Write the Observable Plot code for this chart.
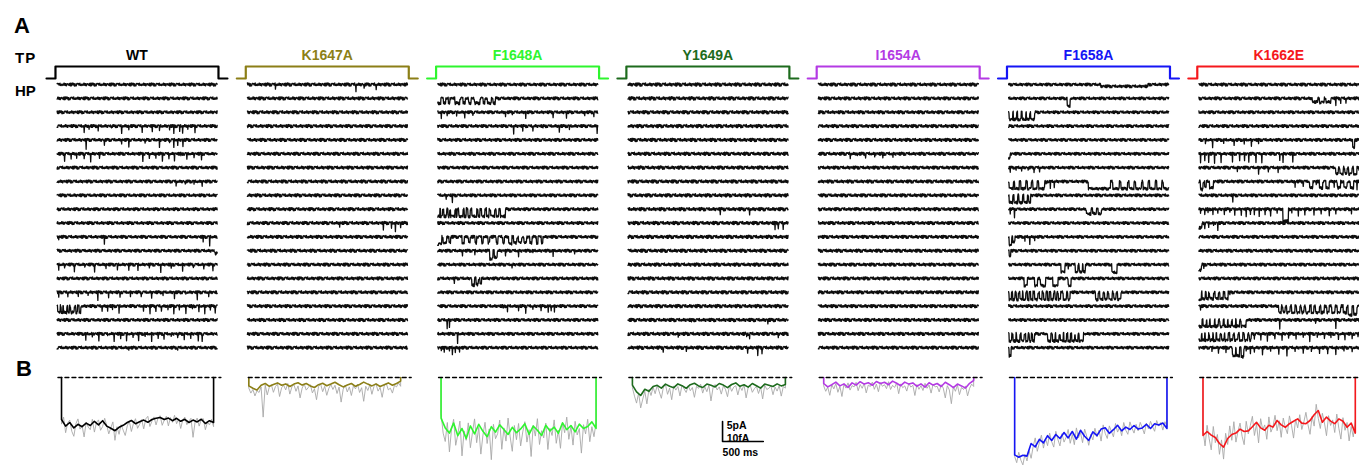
<!DOCTYPE html>
<html><head><meta charset="utf-8">
<script src="https://cdn.jsdelivr.net/npm/d3@7"></script>
<script src="https://cdn.jsdelivr.net/npm/@observablehq/plot@0.6"></script>
<style>
html,body{margin:0;padding:0;background:#fff;overflow:hidden}
#wrap{position:relative;width:1359px;height:467px;font-family:"Liberation Sans",Arial,sans-serif}
#wrap svg{position:absolute;left:0;top:0;display:block}
.lab{position:absolute;font-weight:bold;line-height:1;color:#000;white-space:nowrap}
</style></head><body>
<div id="wrap">
<div class="lab" style="left:14px;top:15px;font-size:22px">A</div>
<div class="lab" style="left:15px;top:50px;font-size:15px;letter-spacing:1px">TP</div>
<div class="lab" style="left:15px;top:83px;font-size:15px">HP</div>
<div class="lab" style="left:16px;top:358px;font-size:22px">B</div>
</div>
<script>
// ---------------- data ----------------
const panels = ["WT","K1647A","F1648A","Y1649A","I1654A","F1658A","K1662E"];
const panelColors = ["#000000","#8c7f17","#2ef52e","#1d6b1d","#b43ae4","#1515f5","#f5181c"];
const unitaryPA = [-1.6,-1.6,-1.5,-1.6,-1.0,-1.8,-1.6];   // default opening amplitude (pA)
const noiseGain = [1.9,2.0,1.9,2.1,2.0,1.8,1.9];

// test pulse protocol (ms) and level (0 = holding, 1 = test)
const tpTimes = [-110,0,0,2000,2000,2110];
const tpLevels = [0,0,1,1,0,0];

// baseline noise texture (pA) and relative depth of brief (filtered) openings
const noise = [0.12,-0.08,0.18,-0.15,0.03,-0.2,0.09,0.15,-0.05,-0.13,0.16,-0.09,0.06,-0.18,0.13,0.01,-0.12,0.19,-0.06,0.1,-0.16,0.04,0.14,-0.1,-0.03,0.17,-0.19,0.07,0.11,-0.14,0.0,0.16,-0.07,-0.15,0.08,0.13,-0.17,0.05,-0.04,0.15,-0.11,0.1,-0.08,0.18,-0.14,0.04,0.07,-0.16,0.12,-0.06,0.03,-0.1,0.16,-0.12,0.09,-0.02,0.14,-0.18,0.06,-0.09,0.11];
const spikeDepth = [1.0,0.7,0.85,0.55,1.1,0.75,0.95,0.6,0.8,1.05,0.65,0.9,0.5,1.0,0.72];

// single-channel openings per sweep: t (brief opening) or [start, end] or [start, end, pA]
const eventsWT = [
 [],[],[],
 [350,412,525,687,812,900,1062,1187,1275,1400,1450,1525,1560,1625,1712],
 [[375,383,-2.0],600,812,900,1100,[1275,1283,-2.0],1400,1450,1500,1562],
 [110,190,260,350,430,540,1070,1150,1230,1310,1390,1460,1540,1610,1700,1790],
 [],
 [[1480,1488,-0.9],[1590,1598,-0.9],[1700,1708,-0.9],[1800,1808,-0.9]],
 [],[],[],
 [40,600,1810,[1890,1898,-2.1]],
 [[1955,1985,-0.7]],
 [40,110,230,360,480,620,760,900,1010,1150,1290,1420,1560,1690,1820,1930],
 [],
 [40,150,280,400,520,650,790,920,1050,1180,1320,1460,1600,1740,1880],
 [[25,60],[70,90],[100,140],[150,170],[185,230],[250,270],[290,310],570,640,700,780,1080,1160,1230,1300,1380,1450,1520,1600,1680,1760,1830,1900,1960],
 [],
 [370,450,530,640,720,800,870,950,1020,1100,1180,1260,1330,1420,1500,1580,1660,1750,[1800,1808,-2.1]],
 [[900,908,-0.8],[1500,1508,-0.8]]
];
const eventsK1647A = [
 [[362,370,-0.9],[1350,1358,-1.8],[1450,1458,-1.2],[1600,1608,-1.4]],
 [],[],[],[],[],[],[],[],[],
 [[1150,1158,-1.2],[1687,1695,-1.4],[1787,1795,-1.2],[1837,1845,-2.0],[1900,1908,-1.0]],
 [],[],[],[],[],[],[],[],[]
];
const eventsF1648A = [
 [],
 [[20,60,-1.2],[90,120,-1.2],[150,170,-1.2],[230,290,-1.2],[330,360,-1.2],[400,430,-1.2],[470,540,-1.2],[580,600,-1.2],[630,680,-1.2],[700,725,-1.2]],
 [62,137,250,350,450,850,937,1100,1437,1600,1825,1937],
 [[950,958,-1.8],1062,1187,1312,1512,1637,1975],
 [],[],[],[],
 [[125,133,-1.2],[200,208,-2.1]],
 [[15,45,-1.8],[55,80,-1.8],[95,130,-1.8],[145,165,-1.8],[180,230,-1.8],[245,260,-1.8],[280,330,-1.8],[345,370,-1.8],[390,420,-1.8],[440,500,-1.8],[515,540,-1.8],[560,600,-1.8],[620,650,-1.8],[670,720,-1.8],[740,770,-1.8],[790,850,-1.8]],
 [],
 [[15,70,-1.8],[85,130],[160,180],[320,345],[400,420],[480,500],[560,580],[640,660],[740,760],[820,840],[890,930,-1.7],[950,990],[1010,1050],[1080,1110],[1150,1180],[1230,1250],[1290,1310]],
 [325,475,[660,700,-2.0],[715,750,-1.7],850,1012,1187,1437,1700],
 [[933,941,-0.9]],
 [[225,233,-0.9],[437,470,-1.7],[490,520],[540,560]],
 [],
 [825,875,1012,1100,1187,1287,1375,1412,1450],
 [[137,145,-2.3],[162,170,-2.0]],
 [[262,270,-2.3]],
 [62,100,162,200,237,287]
];
const eventsY1649A = [
 [],[],[],[],[],[],[],[],[],
 [[1150,1158,-1.0],[1512,1520,-1.2]],
 [1825,1862,1925],
 [],[],[],[],[],[],
 [[800,808,-0.9],[1737,1745,-0.9]],
 [[637,645,-1.0],1475,1512,[1862,1870,-1.2]],
 [[450,458,-0.9],[737,745,-0.8],1487,1612,1662]
];
const eventsI1654A = [
 [],[],[],[],[],
 [412,500,600,712,812,937],
 [],[],[],[],[],[],[],[],[],[],[],[],[],[]
];
const eventsF1658A = [
 [[1150,1730,-0.45]],
 [[737,775,-2.0]],
 [[25,70],[80,120],[130,175],[185,230],[240,280],[290,337]],
 [],[],
 [[20,40,-1.2]],
 [[40,48,-0.9],[110,118,-0.9],[180,188,-0.9],[260,268,-0.9],[330,338,-0.9],[400,408,-0.9]],
 [[25,80],[95,150],[170,230],[250,300],[320,370],[390,462],480,530,580,[1000,1270],[1300,1380],[1400,1480],[1500,1560],[1580,1650],[1670,1730],[1750,1820],[1840,1900],[1920,1990]],
 [[25,70],[85,130],[145,190],[205,250],[265,290]],
 [40,90,[975,1030,-1.2],[1050,1100,-1.0],[1120,1160,-1.2]],
 [],
 [[25,60,-2.0],[70,100,-1.2],220,280,340],
 [[25,45,-1.4]],
 [[662,712],750,[837,870],[885,925],[935,962],[1287,1350,-2.0]],
 [[212,250],[337,375],[412,475],[562,625],[750,787]],
 [[25,55],[70,100],[115,140],[160,190],[200,230],[250,270],[290,320],[340,380],[400,430],[450,480],[500,520],[540,570],[590,610],[630,660],[690,730],[745,775],[1087,1120],[1140,1180],[1200,1230],[1250,1290],[1310,1340],[1360,1400]],
 [],[],
 [[25,60],[75,110],[120,160],[175,210],[230,260],[275,300],[315,337],[500,540],[560,590],[600,640],[655,690],[700,730],[745,780],[795,830],[840,870],[885,937]],
 [[25,50,-2.1]]
];
const eventsK1662E = [
 [],
 [[1412,1480,-0.9],[1500,1560,-1.0],[1580,1640,-0.9],1700,1760,1825],
 [],[],
 [100,187,325,450,575,662,750,[1905,1930,-2.0]],
 [[40,48,-2.0],[90,98,-2.0],[140,148,-2.0],[210,218,-2.0],[290,298,-2.0],[430,438,-2.0],[520,528,-2.0],[580,588,-2.0],[630,638,-2.0],[720,728,-2.0],[790,798,-2.0],[1010,1018,-2.0],[1050,1058,-2.0],[1170,1178,-2.0]],
 [490,750,870,990,[1700,1730],[1750,1790],[1810,1840],[1860,1900],[1920,1960],1985],
 [[40,70,-2.0],[90,110],[150,200],1200,1300,[1380,1420],1460,[1500,1540],[1580,1620],1680,[1720,1760],[1800,1840],[1880,1920],1960],
 [[437,445,-1.4]],
 [40,90,130,190,250,330,400,460,540,600,650,700,760,830,900,980,[1050,1120,-3.0],1160,1240,1320,1430,1520,1620,1700,[1890,1898,-1.4]],
 [[20,60,-1.2],90,140,200,250],
 [],[],
 [[20,50,-1.4],80],
 [],
 [[20,50,-1.8],[60,100],[110,140],[150,200],[220,260],[280,320],[340,380],400],
 [40,[1000,1030],[1050,1080],[1100,1140],[1160,1200],[1220,1260],[1280,1310],[1330,1380],[1400,1430],[1450,1500],[1520,1560],[1590,1620],[1650,1690],[1720,1760],[1790,1830],[1850,1900,-2.3],[1920,1960,-2.1]],
 [[20,60],[70,110],[120,150],[160,210],[220,260],[280,320],[330,370],[380,420],[430,470],[480,520],[540,600],[1012,1020,-2.4],1450,1700],
 [[20,50],[60,90],[100,140],[150,190],[200,230],[240,280],[300,330],[340,380],[400,440],[460,500],[520,560],[580,620],[640,662],700,780,860,950,1040,1120,1210,1300,1380,1470,1560,1640,1730,1810,1900,1970],
 [180,260,350,[430,470,-2.0],[480,520,-2.0],[540,570,-2.3],600,650,700,800,900,1000,1100,1200,1300,1400,1500,1600,1700,1800,1900]
];
const sweepEvents = [eventsWT,eventsK1647A,eventsF1648A,eventsY1649A,eventsI1654A,eventsF1658A,eventsK1662E];

// ensemble averages (fA): smoothed (coloured) and raw (grey), evenly spread over the span
const meanSpanMs = [[74,1940],[37,1900],[61,1963],[74,1951],[86,1926],[94,1963],[70,1939]];
const meanWT = [-21.0,-24.3,-22.5,-25.2,-23.4,-24.6,-22.8,-24.0,-21.9,-23.7,-21.6,-24.3,-25.4,-26.6,-24.9,-23.9,-22.5,-21.5,-23.1,-22.1,-21.3,-22.4,-21.0,-20.4,-20.0,-21.0,-20.3,-21.6,-20.4,-21.9,-20.9,-22.5,-21.3,-22.2,-20.9,-23.0,-21.6,-22.5];
const rawWT = [-23.3,-19.8,-27.6,-22.7,-21.3,-26.9,-29.4,-23.1,-20.7,-25.8,-24.0,-29.7,-22.4,-24.8,-26.1,-20.9,-27.3,-22.5,-21.2,-26.4,-24.5,-20.4,-23.9,-28.2,-25.1,-22.2,-31.4,-24.6,-28.4,-23.6,-26.3,-29.0,-24.2,-21.9,-27.0,-23.0,-20.6,-25.4,-23.4,-21.0,-25.7,-20.7,-19.4,-24.5,-21.8,-19.7,-23.7,-20.1,-19.1,-23.9,-21.3,-19.4,-24.2,-20.0,-22.4,-18.9,-23.1,-20.7,-25.5,-21.2,-19.8,-23.6,-21.8,-20.4,-29.9,-22.2,-20.3,-24.3,-21.0,-20.6,-26.1,-22.4,-23.7,-20.9,-24.6];
const meanK1647A = [-4.2,-5.4,-6.3,-3.9,-3.0,-4.4,-3.5,-2.7,-3.9,-3.2,-4.5,-3.3,-2.6,-3.8,-3.0,-4.2,-5.0,-3.6,-2.9,-4.1,-3.3,-2.4,-3.6,-4.7,-3.8,-3.0,-4.4,-3.5,-2.3,-3.3,-4.2,-3.2,-4.5,-3.6,-2.7,-3.9,-3.0,-1.8];
const rawK1647A = [-5.3,-7.8,-6.0,-9.2,-6.6,-7.5,-4.7,-19.8,-3.8,-8.7,-4.8,-3.6,-7.4,-4.5,-3.3,-9.5,-5.1,-3.9,-6.2,-3.0,-8.3,-4.7,-3.5,-6.9,-4.2,-10.2,-5.3,-3.2,-6.3,-5.0,-3.6,-7.7,-5.7,-11.1,-4.5,-3.3,-7.1,-4.4,-8.9,-5.4,-3.5,-6.0,-3.9,-8.0,-4.8,-12.3,-5.9,-3.8,-7.2,-4.7,-9.0,-4.1,-5.7,-3.3,-7.5,-5.1,-11.9,-4.4,-6.5,-3.6,-8.4,-4.5,-3.2,-6.8,-5.0,-9.9,-4.2,-3.0,-6.2,-5.3,-7.8,-3.9,-4.7,-2.7,-4.4];
const meanF1648A = [-20.3,-25.2,-27.8,-22.8,-29.1,-25.5,-30.5,-24.2,-28.2,-23.4,-26.9,-29.6,-24.6,-27.3,-23.7,-26.0,-28.5,-24.9,-27.6,-25.7,-23.1,-28.4,-24.3,-26.4,-29.0,-23.9,-26.7,-24.8,-27.9,-22.7,-26.1,-24.0,-27.2,-23.3,-25.5,-24.5,-22.2,-25.4];
const rawF1648A = [-18.0,-27.8,-32.0,-22.5,-37.2,-25.8,-20.9,-33.9,-28.5,-21.8,-39.2,-26.7,-31.4,-22.7,-35.1,-27.5,-20.7,-32.6,-24.9,-38.3,-28.8,-22.4,-33.0,-25.7,-41.1,-23.4,-30.6,-28.1,-21.3,-35.9,-25.2,-31.8,-20.3,-29.7,-36.9,-24.0,-31.1,-23.0,-34.2,-27.2,-22.1,-32.3,-26.1,-39.5,-23.9,-29.3,-20.6,-33.5,-26.6,-30.2,-22.8,-36.0,-25.4,-29.0,-21.2,-32.9,-26.3,-35.4,-22.5,-27.6,-19.8,-30.9,-24.3,-33.8,-21.9,-28.7,-25.5,-37.8,-23.6,-28.2,-20.9,-32.1,-24.6,-29.6,-22.5];
const meanY1649A = [-3.8,-7.2,-9.0,-5.9,-6.9,-4.5,-3.9,-5.3,-3.3,-4.4,-5.1,-3.2,-4.1,-5.4,-3.6,-2.9,-4.2,-5.0,-3.3,-3.9,-4.7,-3.0,-3.8,-5.1,-3.5,-2.7,-4.4,-3.6,-4.8,-3.0,-4.1,-5.3,-3.3,-3.9,-4.5,-3.2,-4.2,-3.5];
const rawY1649A = [-5.1,-9.3,-12.8,-7.7,-15.2,-10.8,-6.9,-13.2,-5.9,-9.0,-4.8,-8.1,-3.9,-7.2,-10.4,-4.7,-3.6,-8.4,-5.3,-11.1,-4.2,-6.3,-4.5,-9.2,-3.8,-5.7,-7.5,-4.1,-6.6,-5.0,-9.9,-4.4,-5.4,-3.3,-7.8,-4.5,-7.1,-3.9,-11.7,-5.1,-3.5,-6.2,-4.7,-8.3,-4.2,-5.9,-9.6,-3.8,-6.9,-4.8,-4.1,-8.7,-4.5,-6.5,-3.6,-10.2,-5.0,-3.9,-7.4,-5.6,-4.4,-8.0,-4.7,-10.7,-3.8,-6.0,-5.4,-4.2,-8.6,-4.8,-6.8,-4.1,-9.3,-4.5,-5.3];
const meanI1654A = [-3.0,-4.7,-3.6,-2.3,-4.2,-3.2,-5.0,-2.7,-3.8,-2.1,-3.3,-2.6,-3.9,-2.0,-3.0,-2.4,-3.6,-1.8,-2.9,-4.1,-2.3,-3.3,-2.7,-4.4,-3.2,-4.8,-2.6,-3.8,-3.0,-4.5,-2.4,-3.6,-5.1,-3.3,-4.2,-5.3,-2.9,-1.5];
const rawI1654A = [-4.2,-6.9,-4.8,-8.9,-3.6,-5.7,-3.0,-7.4,-4.5,-9.5,-3.3,-5.3,-2.7,-6.3,-4.1,-4.7,-2.4,-6.6,-3.5,-5.4,-2.9,-7.7,-3.8,-4.5,-2.3,-5.9,-3.3,-7.1,-2.6,-4.4,-3.6,-5.6,-2.1,-6.0,-3.9,-5.0,-2.7,-8.1,-3.2,-5.1,-4.2,-6.8,-3.0,-4.8,-3.9,-9.0,-3.5,-5.9,-4.1,-6.5,-2.9,-5.4,-3.8,-7.8,-3.3,-4.7,-4.4,-7.2,-3.6,-5.3,-10.2,-4.1,-6.2,-13.1,-4.5,-6.9,-3.8,-8.6,-5.0,-6.0,-4.2,-9.2,-5.4,-3.3,-4.5];
const meanF1658A = [-38.7,-39.9,-38.9,-39.3,-33.0,-34.7,-30.9,-32.7,-29.1,-31.5,-28.5,-30.5,-27.5,-30.2,-27.0,-30.8,-26.4,-29.4,-31.5,-27.2,-29.1,-25.8,-25.1,-27.9,-26.1,-23.9,-26.7,-24.8,-26.0,-24.0,-25.8,-25.2,-23.4,-25.5,-23.1,-23.7,-22.8,-25.5];
const rawF1658A = [-39.5,-42.6,-37.4,-41.3,-43.7,-38.4,-41.7,-36.6,-40.4,-34.5,-30.2,-36.9,-32.7,-28.8,-35.3,-30.5,-34.1,-27.8,-32.1,-34.8,-26.9,-30.9,-34.2,-28.1,-32.3,-29.9,-26.0,-32.9,-28.5,-33.6,-25.2,-30.2,-27.6,-32.6,-25.8,-29.3,-33.9,-28.4,-31.2,-25.4,-29.6,-26.3,-31.8,-23.7,-27.9,-30.5,-24.2,-26.9,-29.7,-23.0,-27.3,-24.9,-29.1,-22.5,-26.4,-28.4,-22.2,-25.4,-27.8,-23.4,-26.7,-22.4,-25.1,-28.2,-22.8,-25.7,-21.9,-24.6,-26.9,-21.5,-24.3,-22.5,-26.3,-22.1,-24.5];
const meanK1662E = [-29.0,-27.0,-28.8,-30.0,-33.0,-34.8,-30.5,-28.5,-27.8,-25.8,-27.0,-26.7,-24.6,-22.4,-25.2,-26.4,-23.9,-24.8,-21.5,-23.7,-24.9,-23.1,-21.9,-20.7,-22.8,-23.1,-21.5,-18.6,-16.5,-22.4,-19.8,-21.8,-23.1,-20.7,-21.9,-24.9,-22.8,-27.8];
const rawK1662E = [-26.3,-34.2,-23.9,-30.6,-36.2,-24.5,-32.6,-28.5,-38.4,-31.2,-40.8,-27.9,-33.5,-24.2,-31.4,-22.1,-32.3,-26.9,-22.8,-29.4,-33.6,-21.9,-28.2,-24.0,-19.4,-29.0,-23.3,-32.7,-20.6,-26.1,-23.7,-30.9,-19.7,-27.3,-24.6,-18.9,-26.6,-21.6,-29.9,-20.3,-24.9,-28.1,-19.2,-23.9,-30.3,-20.9,-25.2,-18.6,-26.0,-22.2,-17.4,-23.6,-28.4,-19.5,-24.3,-13.4,-20.4,-25.5,-17.9,-22.7,-29.1,-19.1,-24.0,-21.2,-27.5,-18.3,-25.4,-30.8,-20.1,-26.4,-22.5,-31.7,-24.5,-29.7,-21.8];
const meanTraces = [meanWT,meanK1647A,meanF1648A,meanY1649A,meanI1654A,meanF1658A,meanK1662E];
const rawTraces = [rawWT,rawK1647A,rawF1648A,rawY1649A,rawI1654A,rawF1658A,rawK1662E];

// calibration bar
const barPA = 5, barFA = 10, barMs = 500;
const barLabels = ["5pA","10fA","500 ms"];

// ---------------- layout (rows of the trace stack) ----------------
const rowPx = 13.85;                 // spacing of consecutive sweeps
const rowsPerPA = 4 / rowPx;         // 5 pA bar = 20 px
const rowsPerFA = 2 / rowPx;         // 10 fA bar = 20 px
const titleRow = -2.09, tpLowRow = -0.433, tpHighRow = -1.30, avgRow = 21.155;
const sweepStart = 20, sweepEnd = 1985, dt = 4;

const rows = [];
panels.forEach((p, pi) => {
  const color = panelColors[pi];
  rows.push({kind: "title", panel: p, t: 1000, y: titleRow, text: p, color});
  tpTimes.forEach((t, k) => rows.push({kind: "tp", panel: p, id: p + "tp", t, y: tpLevels[k] ? tpHighRow : tpLowRow, color}));
  sweepEvents[pi].forEach((list, s) => {
    const n = Math.floor((sweepEnd - sweepStart) / dt) + 1;
    const I = new Array(n);
    for (let i = 0; i < n; i++) I[i] = noise[(i * 7 + s * 11 + pi * 17) % noise.length] * noiseGain[pi];
    list.forEach((e, k) => {
      if (typeof e === "number") {                       // brief, filtered opening: one sample
        const i = Math.round((e - sweepStart) / dt);
        if (i >= 0 && i < n) I[i] += unitaryPA[pi] * spikeDepth[(k + s * 3) % spikeDepth.length];
      } else {
        const amp = e.length > 2 ? e[2] : unitaryPA[pi];
        const brief = e[1] - e[0] <= 10;
        for (let i = 0; i < n; i++) {
          const t = sweepStart + i * dt;
          if (brief ? i === Math.round((e[0] - sweepStart) / dt) : (t >= e[0] && t < e[1])) I[i] += amp;
        }
      }
    });
    for (let i = 0; i < n; i++) rows.push({kind: "sweep", panel: p, id: p + "-" + s, t: sweepStart + i * dt, y: s - I[i] * rowsPerPA});
  });
  const [t0, t1] = meanSpanMs[pi];
  const addTrace = (vals, kind) => {
    const n = vals.length, id = p + kind;
    rows.push({kind, panel: p, id, t: t0, y: avgRow, color});
    vals.forEach((v, k) => rows.push({kind, panel: p, id, t: t0 + (t1 - t0) * k / (n - 1), y: avgRow - v * rowsPerFA, color}));
    rows.push({kind, panel: p, id, t: t1, y: avgRow, color});
  };
  addTrace(rawTraces[pi], "raw");
  addTrace(meanTraces[pi], "mean");
  rows.push({kind: "zero", panel: p, id: p + "zero", t: 30, y: avgRow});
  rows.push({kind: "zero", panel: p, id: p + "zero", t: 2030, y: avgRow});
});
// calibration bar in the Y1649A column
const barRow = 25.78, barT = 1180;
rows.push({kind: "bar", panel: "Y1649A", id: "bar", t: barT, y: barRow - barPA * rowsPerPA});
rows.push({kind: "bar", panel: "Y1649A", id: "bar", t: barT, y: barRow});
rows.push({kind: "bar", panel: "Y1649A", id: "bar", t: barT + barMs, y: barRow});
rows.push({kind: "barlabel", panel: "Y1649A", t: barT + 50, y: barRow - barPA * rowsPerPA + 0.30, text: barLabels[0]});
rows.push({kind: "barlabel", panel: "Y1649A", t: barT + 50, y: barRow - barFA * rowsPerFA + 1.25, text: barLabels[1]});
rows.push({kind: "barlabel", panel: "Y1649A", t: barT, y: barRow + 0.78, text: barLabels[2]});

const font = "Liberation Sans, Arial, sans-serif";
const chart = Plot.plot({
  width: 1359, height: 467,
  marginTop: 0, marginRight: 0, marginBottom: 0, marginLeft: 0,
  style: {background: "transparent", overflow: "hidden"},
  facet: {data: rows, x: "panel", marginTop: 0, marginRight: 0, marginBottom: 0, marginLeft: 0},
  fx: {domain: panels, range: [45.2, 1369.6], paddingInner: 0.0405, paddingOuter: 0, round: false, axis: null, label: null},
  x: {domain: [-120, 2120], range: [0, 182.56], axis: null},
  y: {domain: [-84 / rowPx, 383 / rowPx], range: [0, 467], axis: null},
  color: {type: "identity"},
  marks: [
    Plot.line(rows, {filter: d => d.kind === "tp", x: "t", y: "y", z: "id", stroke: "color", strokeWidth: 2.2}),
    Plot.text(rows, {filter: d => d.kind === "title", x: "t", y: "y", text: "text", fill: "color", fontSize: 14, fontWeight: "bold", fontFamily: font}),
    Plot.line(rows, {filter: d => d.kind === "sweep", x: "t", y: "y", z: "id", stroke: "#0d0d0d", strokeWidth: 1.3}),
    Plot.line(rows, {filter: d => d.kind === "raw", x: "t", y: "y", z: "id", stroke: "#a8a8a8", strokeWidth: 0.9}),
    Plot.line(rows, {filter: d => d.kind === "mean", x: "t", y: "y", z: "id", stroke: "color", strokeWidth: 1.6}),
    Plot.line(rows, {filter: d => d.kind === "zero", x: "t", y: "y", z: "id", stroke: "#000", strokeWidth: 1.3, strokeDasharray: "4,3"}),
    Plot.line(rows, {filter: d => d.kind === "bar", x: "t", y: "y", z: "id", stroke: "#000", strokeWidth: 1.6}),
    Plot.text(rows, {filter: d => d.kind === "barlabel", x: "t", y: "y", text: "text", textAnchor: "start", fill: "#000", fontSize: 10.5, fontWeight: "bold", fontFamily: font})
  ]
});
document.getElementById("wrap").prepend(chart);
</script>
</body></html>
